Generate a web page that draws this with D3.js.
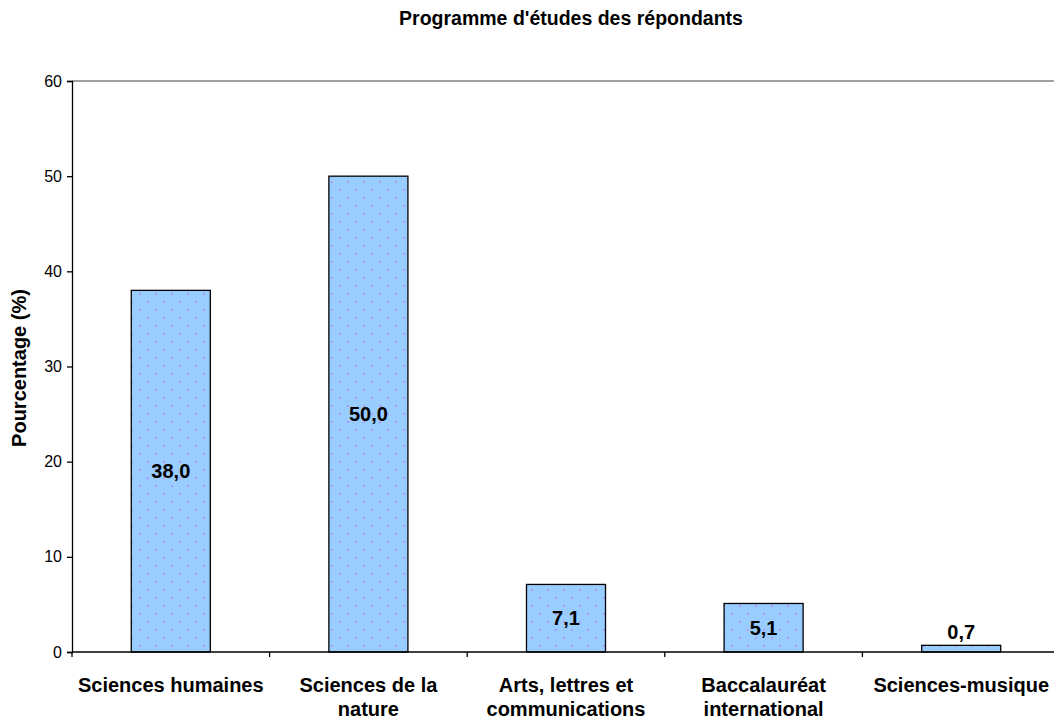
<!DOCTYPE html>
<html>
<head>
<meta charset="utf-8">
<script src="https://cdn.jsdelivr.net/npm/d3@7"></script>
<style>
  body { margin: 0; background: #fff; }
  text { font-family: Arial, "Liberation Sans", sans-serif; }
</style>
</head>
<body>
<div id="chart"></div>
<script>
// data
var categories = ["Sciences humaines", "Sciences de la\nnature", "Arts, lettres et\ncommunications", "Baccalauréat\ninternational", "Sciences-musique"];
var values = [38.0, 50.0, 7.1, 5.1, 0.7];
var yTicks = [0, 10, 20, 30, 40, 50, 60];
var title = "Programme d'études des répondants";
var yTitle = "Pourcentage (%)";

var margin = {top: 81, right: -6, bottom: 68, left: 72},
    width = 1054 - margin.left - margin.right,
    height = 720 - margin.top - margin.bottom;

var fmt = function(v) { return d3.format(".1f")(v).replace(".", ","); };

var root = d3.select("#chart")
  .append("svg")
    .attr("width", 1054)
    .attr("height", 720);

// dotted fill pattern
var defs = root.append("defs");
var pat = defs.append("pattern")
    .attr("id", "dots")
    .attr("patternUnits", "userSpaceOnUse")
    .attr("width", 16)
    .attr("height", 16);
pat.append("rect").attr("width", 16).attr("height", 16).attr("fill", "#99ccff");
pat.append("rect").attr("x", 3).attr("y", 4).attr("width", 2).attr("height", 2).attr("fill", "#ad9cf2");
pat.append("rect").attr("x", 11).attr("y", 12).attr("width", 2).attr("height", 2).attr("fill", "#ad9cf2");

var svg = root.append("g")
    .attr("transform", "translate(" + margin.left + "," + margin.top + ")");

var x = d3.scaleBand()
    .domain(categories)
    .range([0, width])
    .paddingInner(0.6)
    .paddingOuter(0.3);

var y = d3.scaleLinear()
    .domain([0, 60])
    .range([height, 0]);

// plot area border (top, gray)
svg.append("line")
    .attr("x1", 0).attr("x2", width)
    .attr("y1", y(60)).attr("y2", y(60))
    .attr("stroke", "#808080")
    .attr("stroke-width", 1.3);

// bars
svg.selectAll(".bar")
    .data(values)
  .enter().append("rect")
    .attr("class", "bar")
    .attr("x", function(d, i) { return x(categories[i]); })
    .attr("y", function(d) { return y(d); })
    .attr("width", x.bandwidth())
    .attr("height", function(d) { return height - y(d); })
    .attr("fill", "url(#dots)")
    .attr("stroke", "#000")
    .attr("stroke-width", 1.3);

// value labels
svg.selectAll(".lbl")
    .data(values)
  .enter().append("text")
    .attr("class", "lbl")
    .attr("x", function(d, i) { return x(categories[i]) + x.bandwidth() / 2; })
    .attr("y", function(d) {
      var h = height - y(d);
      return h < 20 ? y(d) - 6 : y(d) + h / 2 + 7;
    })
    .attr("text-anchor", "middle")
    .attr("font-size", "20px")
    .attr("font-weight", 700)
    .text(function(d) { return fmt(d); });

// Y axis
var yAxis = svg.append("g")
    .call(d3.axisLeft(y).tickValues(yTicks).tickSize(5).tickPadding(5).tickFormat(d3.format("d")));
yAxis.select(".domain").attr("stroke", "#000").attr("stroke-width", 1.3);
yAxis.selectAll(".tick line").attr("stroke", "#000").attr("stroke-width", 1.3);
yAxis.selectAll("text").attr("font-size", "16px").attr("fill", "#000")
    .attr("font-family", "Arial, 'Liberation Sans', sans-serif");

// X axis: boundaries between categories
var xAxisG = svg.append("g")
    .attr("transform", "translate(0," + height + ")");
xAxisG.append("line")
    .attr("x1", 0).attr("x2", width)
    .attr("stroke", "#000").attr("stroke-width", 1.3);
var bounds = d3.range(categories.length + 1).map(function(i) { return i * (width / categories.length); });
xAxisG.selectAll(".xt")
    .data(bounds)
  .enter().append("line")
    .attr("x1", function(d) { return d; })
    .attr("x2", function(d) { return d; })
    .attr("y1", 0).attr("y2", 5)
    .attr("stroke", "#000").attr("stroke-width", 1.3);

var xl = xAxisG.selectAll(".xl")
    .data(categories)
  .enter().append("text")
    .attr("class", "xl")
    .attr("x", function(d) { return x(d) + x.bandwidth() / 2; })
    .attr("y", 40)
    .attr("text-anchor", "middle")
    .attr("font-size", "20px")
    .attr("font-weight", 700);
xl.each(function(d) {
  var t = d3.select(this);
  d.split("\n").forEach(function(line, k) {
    t.append("tspan")
      .attr("x", t.attr("x"))
      .attr("dy", k === 0 ? 0 : 24)
      .text(line);
  });
});

// titles
root.append("text")
    .attr("x", 571)
    .attr("y", 25)
    .attr("text-anchor", "middle")
    .attr("font-size", "19.5px")
    .attr("font-weight", 700)
    .text(title);

root.append("text")
    .attr("transform", "translate(26," + 368 + ") rotate(-90)")
    .attr("text-anchor", "middle")
    .attr("font-size", "20px")
    .attr("font-weight", 700)
    .text(yTitle);
</script>
</body>
</html>
